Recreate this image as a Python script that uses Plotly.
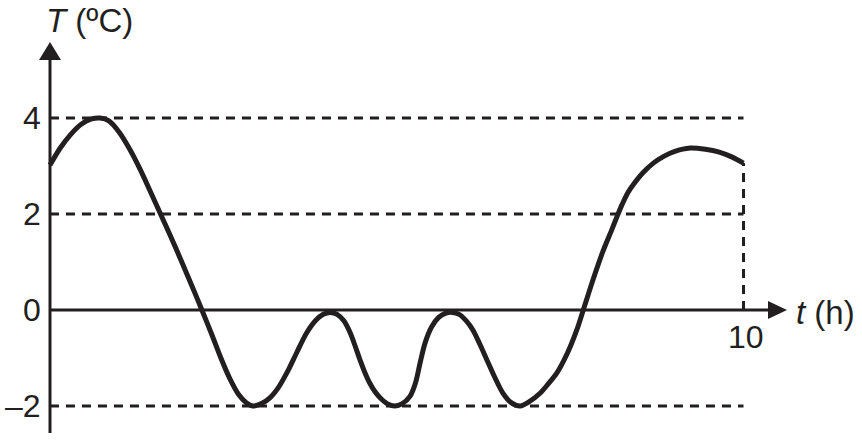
import plotly.graph_objects as go

# ---- data ----
t_vals = [0.00, 0.15, 0.30, 0.45, 0.60, 0.72, 0.85, 1.00, 1.15, 1.30, 1.45, 1.60,
          1.75, 1.90, 2.05, 2.19, 2.33, 2.47, 2.60, 2.72, 2.83, 2.93,
          3.05, 3.17, 3.30, 3.43, 3.56, 3.70, 3.83, 3.94, 4.04,
          4.14, 4.24, 4.33, 4.40, 4.47, 4.54, 4.61, 4.69, 4.76, 4.86, 4.97,
          5.08, 5.19, 5.27, 5.34, 5.41, 5.50, 5.60, 5.70, 5.80,
          5.90, 6.00, 6.10, 6.20, 6.30, 6.41, 6.53, 6.65, 6.78,
          6.90, 7.07, 7.19, 7.31, 7.41, 7.50, 7.60, 7.69, 7.83, 7.97, 8.10, 8.18,
          8.25, 8.33, 8.42, 8.55, 8.70, 8.85, 9.00, 9.23, 9.45, 9.65, 9.83, 10.00]
T_vals = [3.02, 3.38, 3.66, 3.87, 3.98, 4.00, 3.94, 3.70, 3.35, 2.93, 2.46, 1.98,
          1.50, 1.00, 0.49, 0.00, -0.50, -1.02, -1.45, -1.76, -1.93, -2.00,
          -1.95, -1.83, -1.60, -1.27, -0.88, -0.48, -0.22, -0.09, -0.05,
          -0.09, -0.23, -0.48, -0.75, -1.04, -1.30, -1.52, -1.71, -1.83, -1.95, -2.00,
          -1.95, -1.80, -1.52, -1.08, -0.68, -0.36, -0.16, -0.07, -0.05,
          -0.09, -0.22, -0.42, -0.72, -1.04, -1.39, -1.73, -1.93, -2.00,
          -1.92, -1.73, -1.53, -1.31, -1.05, -0.77, -0.40, 0.00, 0.63, 1.21, 1.67, 1.96,
          2.20, 2.44, 2.63, 2.86, 3.06, 3.20, 3.30, 3.375, 3.35, 3.29, 3.19, 3.06]
ref_levels = [4, 2, -2]
tick_vals = [4, 2, 0, -2]
tick_text = ["4", "2", "0", "–2"]
t_end = 10
t_end_label = "10"

INK = "#231f20"
FONT = "Liberation Sans, Arial, sans-serif"

W, H = 862, 445
PX_X = 69.35   # px per hour
PX_Y = 48.0    # px per degree
ORG_X, ORG_Y = 50, 310   # origin position in the picture (px)
x0 = -ORG_X / PX_X
x1 = x0 + W / PX_X
y1 = ORG_Y / PX_Y
y0 = y1 - H / PX_Y

fig = go.Figure()

DASH = dict(color=INK, width=3, dash="9px,7px")
# dashed reference lines
for lv in ref_levels:
    fig.add_trace(go.Scatter(x=[0, t_end], y=[lv, lv], mode="lines", line=DASH,
                             hoverinfo="skip", showlegend=False))
# vertical dashed line at t_end
fig.add_trace(go.Scatter(x=[t_end, t_end], y=[0, T_vals[-1]], mode="lines", line=DASH,
                         hoverinfo="skip", showlegend=False))

# axis lines (pixel offsets converted to data units)
y_ax_bot = -(433 - 310) / PX_Y
y_tip = (310 - 42) / PX_Y
y_base = (310 - 60) / PX_Y
x_tip = (787 - 50) / PX_X
x_base = (768 - 50) / PX_X
fig.add_trace(go.Scatter(x=[0, 0], y=[y_ax_bot, y_base], mode="lines",
                         line=dict(color=INK, width=3), hoverinfo="skip", showlegend=False))
fig.add_trace(go.Scatter(x=[0, x_base], y=[0, 0], mode="lines",
                         line=dict(color=INK, width=3), hoverinfo="skip", showlegend=False))

# curve
fig.add_trace(go.Scatter(x=t_vals, y=T_vals, mode="lines",
                         line=dict(color=INK, width=5, shape="spline", smoothing=0.85),
                         hoverinfo="skip", showlegend=False))

# arrowheads
hw = 11 / PX_X
fig.add_shape(type="path",
              path=f"M {-hw} {y_base} L {hw} {y_base} L 0 {y_tip} Z",
              fillcolor=INK, line=dict(width=0), xref="x", yref="y")
hh = 9 / PX_Y
fig.add_shape(type="path",
              path=f"M {x_base} {-hh} L {x_base} {hh} L {x_tip} 0 Z",
              fillcolor=INK, line=dict(width=0), xref="x", yref="y")

# tick labels
for v, txt in zip(tick_vals, tick_text):
    fig.add_annotation(x=-7 / PX_X, y=v, text=txt, showarrow=False,
                       xanchor="right", yanchor="middle",
                       font=dict(family=FONT, size=32, color=INK))
fig.add_annotation(x=t_end + 2 / PX_X, y=-27 / PX_Y, text=t_end_label, showarrow=False,
                   xanchor="center", yanchor="middle",
                   font=dict(family=FONT, size=32, color=INK))

# axis titles
fig.add_annotation(x=-6 / PX_X, y=(310 - 20) / PX_Y, text="<i>T</i> (ºC)", showarrow=False,
                   xanchor="left", yanchor="middle",
                   font=dict(family=FONT, size=33, color=INK))
fig.add_annotation(x=(794 - 50) / PX_X, y=-2 / PX_Y, text="<i>t</i> (h)", showarrow=False,
                   xanchor="left", yanchor="middle",
                   font=dict(family=FONT, size=33, color=INK))

fig.update_xaxes(range=[x0, x1], visible=False, fixedrange=True)
fig.update_yaxes(range=[y0, y1], visible=False, fixedrange=True)
fig.update_layout(width=W, height=H, margin=dict(l=0, r=0, t=0, b=0),
                  paper_bgcolor="white", plot_bgcolor="white")

fig.write_html("out.html", config={"displayModeBar": False},
               post_script="document.body.style.margin='0';")
